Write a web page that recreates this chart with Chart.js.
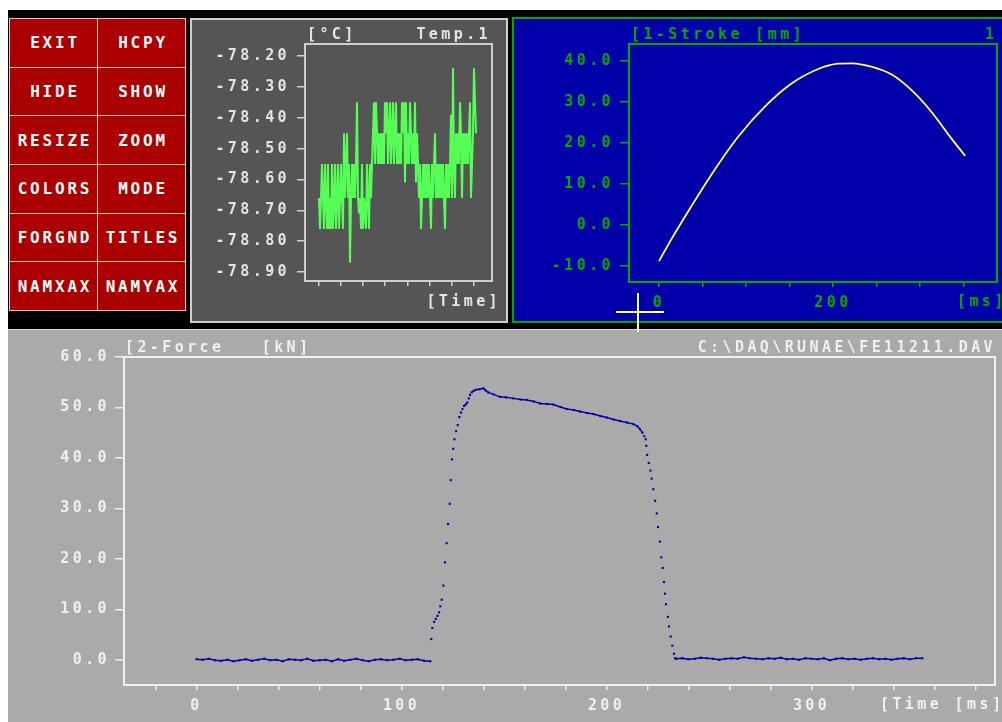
<!DOCTYPE html>
<html>
<head>
<meta charset="utf-8">
<script src="https://cdn.jsdelivr.net/npm/chart.js@4.4.1/dist/chart.umd.min.js"></script>
<style>
  html, body { margin: 0; padding: 0; }
  body { width: 1002px; height: 722px; background: #fff; position: relative; overflow: hidden; }
  .box { position: absolute; box-sizing: border-box; }
  .txt { position: absolute; font: bold 15px "DejaVu Sans Mono", monospace; letter-spacing: 3.4px; line-height: 16px; white-space: pre; }
  canvas { position: absolute; }
  #menu { position: absolute; box-sizing: border-box; left: 9px; top: 18px; width: 177px; height: 293px; background: #e8c4c4;
          display: grid; grid-template-columns: 87px 87px; grid-template-rows: repeat(6, 1fr); gap: 1px; padding: 1px; }
  #menu div { background: #aa0000; color: #fff; display: flex; align-items: center; justify-content: center;
              font: bold 16px "DejaVu Sans Mono", monospace; letter-spacing: 2.8px; padding-left: 3px; }
</style>
</head>
<body>
<div class="box" style="left:8px;top:10px;width:994px;height:320px;background:#000"></div>

<div id="menu">
  <div>EXIT</div><div>HCPY</div>
  <div>HIDE</div><div>SHOW</div>
  <div>RESIZE</div><div>ZOOM</div>
  <div>COLORS</div><div>MODE</div>
  <div>FORGND</div><div>TITLES</div>
  <div>NAMXAX</div><div>NAMYAX</div>
</div>

<!-- temperature panel -->
<div class="box" style="left:190px;top:18px;width:318px;height:305px;background:#555;border:2px solid #cfcfcf"></div>
<canvas id="temp" width="318" height="305" style="left:190px;top:18px"></canvas>
<div class="txt" style="left:307px;top:26px;color:#e4e4e4">[°C]</div>
<div class="txt" style="right:511px;top:26px;color:#e4e4e4">Temp.1</div>
<div class="txt" style="right:501px;top:293px;color:#e4e4e4">[Time]</div>

<!-- stroke panel -->
<div class="box" style="left:512px;top:17px;width:500px;height:306px;background:#0000aa;border:2px solid #00aa00"></div>
<canvas id="stroke" width="490" height="306" style="left:512px;top:17px"></canvas>
<div class="txt" style="left:631px;top:26px;color:#00aa00">[1-Stroke [mm]</div>
<div class="txt" style="left:985px;top:26px;color:#00aa00">1</div>
<div class="txt" style="left:957px;top:293px;color:#00aa00">[ms]</div>

<!-- force panel -->
<div class="box" style="left:8px;top:329px;width:994px;height:393px;background:#aaaaaa;border-top:1px solid #d4d4d4"></div>
<canvas id="force" width="994" height="392" style="left:8px;top:330px"></canvas>
<div class="txt" style="left:125px;top:339px;color:#f0f0f0">[2-Force   [kN]</div>
<div class="txt" style="right:6px;top:339px;color:#f0f0f0">C:\DAQ\RUNAE\FE11211.DAV</div>
<div class="txt" style="left:880px;top:696px;color:#f0f0f0">[Time [ms]</div>

<!-- cursor -->
<div class="box" style="left:616px;top:311px;width:48px;height:2px;background:#ffff99"></div>
<div class="box" style="left:637px;top:293px;width:2px;height:39px;background:#ffff99"></div>

<script>
// Temp.1 [°C], one value per sample
const tempValues = [
  -78.66, -78.76, -78.66, -78.55, -78.66, -78.76, -78.55, -78.66, -78.76, -78.55,
  -78.76, -78.66, -78.76, -78.55, -78.76, -78.66, -78.55, -78.76, -78.66, -78.55,
  -78.76, -78.66, -78.55, -78.66, -78.76, -78.45, -78.66, -78.55, -78.45, -78.66,
  -78.55, -78.87, -78.66, -78.55, -78.66, -78.55, -78.66, -78.55, -78.35, -78.66,
  -78.71, -78.66, -78.76, -78.55, -78.76, -78.66, -78.71, -78.76, -78.55, -78.66,
  -78.76, -78.55, -78.66, -78.55, -78.45, -78.35, -78.55, -78.35, -78.45, -78.55,
  -78.45, -78.55, -78.45, -78.55, -78.45, -78.55, -78.35, -78.45, -78.35, -78.55,
  -78.45, -78.35, -78.55, -78.45, -78.35, -78.55, -78.45, -78.35, -78.55, -78.45,
  -78.55, -78.45, -78.55, -78.35, -78.45, -78.35, -78.61, -78.35, -78.55, -78.45,
  -78.55, -78.35, -78.45, -78.55, -78.45, -78.55, -78.35, -78.61, -78.45, -78.55,
  -78.66, -78.55, -78.76, -78.66, -78.55, -78.66, -78.55, -78.66, -78.55, -78.66,
  -78.55, -78.66, -78.76, -78.55, -78.66, -78.55, -78.45, -78.66, -78.55, -78.66,
  -78.55, -78.66, -78.55, -78.66, -78.55, -78.66, -78.76, -78.55, -78.66, -78.55,
  -78.66, -78.55, -78.39, -78.66, -78.24, -78.55, -78.66, -78.45, -78.55, -78.45,
  -78.55, -78.35, -78.45, -78.66, -78.45, -78.55, -78.45, -78.55, -78.45, -78.55,
  -78.45, -78.35, -78.66, -78.55, -78.45, -78.24, -78.35, -78.45
];
const tempYTicks = [-78.9, -78.8, -78.7, -78.6, -78.5, -78.4, -78.3, -78.2];
const tempXTicks = [0, 22, 44, 66, 89, 111, 133, 155];

// 1-Stroke [mm] over time [ms]
const strokeTime  = [0, 15, 37, 60, 91, 122, 152, 183, 206, 222, 245, 268, 290, 313, 336, 352];
const strokeValue = [-8.8, -3.2, 4.5, 12.2, 21.5, 28.9, 34.4, 38.0, 39.3, 39.4, 38.5, 36.6, 32.9, 27.6, 21.1, 16.8];
const strokeYTicks = [-10, 0, 10, 20, 30, 40];
const strokeXTicks = [0, 50, 100, 150, 200, 250, 300, 350];
const strokeXLabels = [0, 200];

// 2-Force [kN] over time [ms]
const forceTime = [
  0, 3, 6, 9, 12, 15, 18, 21, 24, 27, 30, 33, 36, 39, 42, 45, 48, 51, 54, 57,
  60, 63, 66, 69, 72, 75, 78, 81, 84, 87, 90, 93, 96, 99, 102, 105, 108, 111, 114,
  114.5, 115.0, 115.9, 116.7, 117.5, 118.3, 118.9, 119.6, 120.4, 121.2, 122.0, 122.7, 123.5, 124.0, 124.6,
  125.2, 125.8, 126.6, 127.4, 128.2, 129.0, 129.7, 130.5, 131.3, 132.1, 132.8, 133.4, 134.2, 135.2, 136.3,
  138.0, 139.9, 141.0, 142.3, 144.8, 148.0, 151.0, 154.5, 158.0, 161.1, 164.5, 167.6, 171.0, 174.0, 177.5,
  180.6, 184.0, 187.1, 190.5, 193.6, 197.0, 200.1, 203.5, 206.6, 210.0, 213.1, 215.0, 216.3, 217.5, 218.4,
  219.1, 219.4, 219.8, 220.6, 221.4, 222.0, 222.8, 223.7, 224.5, 225.1, 226.0, 226.7, 227.4, 228.0, 228.5,
  229.0, 229.9, 230.5, 231.3, 232.1, 232.9, 233.4,
  234, 237, 240, 243, 246, 249, 252, 255, 258, 261, 264, 267, 270, 273, 276, 279, 282, 285, 288, 291,
  294, 297, 300, 303, 306, 309, 312, 315, 318, 321, 324, 327, 330, 333, 336, 339, 342, 345, 348, 351, 354
];
const forceValue = [
  0.1, 0.0, 0.2, -0.1, -0.2, 0.0, -0.3, -0.1, 0.1, -0.2, 0.0, 0.2, -0.1, 0.0, -0.3, 0.1, 0.0, -0.1, 0.2, -0.2,
  -0.1, 0.0, -0.3, 0.1, -0.2, 0.0, 0.2, -0.1, -0.3, 0.0, 0.1, -0.1, 0.0, 0.2, -0.1, 0.0, 0.1, -0.2, -0.3,
  4.1, 6.3, 7.5, 8.1, 8.7, 9.4, 10.6, 11.9, 14.7, 19.3, 23.1, 26.9, 30.9, 35.6, 39.7,
  41.8, 43.7, 45.3, 46.5, 48.1, 49.0, 49.7, 50.3, 50.6, 51.0, 51.8, 52.5, 53.0, 53.3, 53.5,
  53.6, 53.8, 53.4, 53.0, 52.6, 52.1, 52.0, 51.8, 51.6, 51.5, 51.2, 50.8, 50.7, 50.6, 50.1,
  49.7, 49.5, 49.2, 48.9, 48.7, 48.3, 48.0, 47.6, 47.3, 47.0, 46.7, 46.3, 45.7, 45.0, 44.3,
  43.7, 42.4, 40.6, 39.0, 37.5, 35.9, 33.8, 31.5, 29.0, 26.3, 23.4, 20.3, 18.2, 15.4, 13.1,
  11.0, 8.5, 6.6, 4.6, 2.8, 1.2, 0.3,
  0.2, 0.3, 0.1, 0.2, 0.4, 0.3, 0.2, 0.0, 0.2, 0.3, 0.2, 0.5, 0.3, 0.2, 0.1, 0.3, 0.2, 0.4, 0.1, 0.2,
  0.0, 0.3, 0.2, 0.1, 0.3, -0.1, 0.2, 0.3, 0.1, 0.2, 0.0, 0.2, 0.3, 0.1, 0.2, 0.0, 0.2, 0.3, 0.1, 0.3, 0.3
];
const forceYTicks = [0, 10, 20, 30, 40, 50, 60];
const forceXTicks = [-20, 0, 20, 40, 60, 80, 100, 120, 140, 160, 180, 200, 220, 240, 260, 280, 300, 320, 340, 360, 380];
const forceXLabels = [0, 100, 200, 300];

Chart.defaults.font.family = '"DejaVu Sans Mono", monospace';
Chart.defaults.font.size = 15;
Chart.defaults.font.weight = 'bold';
Chart.defaults.animation = false;

// the old DOS font is wide, so space the canvas text out
Chart.register({
  id: 'spacing',
  beforeDraw(chart) { chart.ctx.letterSpacing = '3.4px'; }
});

// closed box round the plot area
const frame = {
  id: 'frame',
  beforeDatasetsDraw(chart, args, opts) {
    const { ctx, chartArea: a } = chart;
    ctx.save();
    ctx.strokeStyle = opts.color;
    ctx.lineWidth = opts.width;
    ctx.strokeRect(Math.round(a.left), Math.round(a.top), Math.round(a.right - a.left), Math.round(a.bottom - a.top));
    ctx.restore();
  }
};

function yAxis(min, max, ticks, digits, color, width, pad) {
  return {
    type: 'linear', min: min, max: max, bounds: 'data',
    afterBuildTicks: s => { s.ticks = ticks.map(v => ({ value: v })); },
    afterFit: s => { s.width = width; },
    border: { display: false },
    grid: { drawOnChartArea: false, drawTicks: true, tickLength: 9, color: color, lineWidth: 1.5 },
    ticks: { color: color, padding: pad, autoSkip: false, callback: v => v.toFixed(digits) }
  };
}

function xAxis(min, max, ticks, labels, color, height) {
  return {
    type: 'linear', min: min, max: max, bounds: 'data',
    afterBuildTicks: s => { s.ticks = ticks.map(v => ({ value: v })); },
    afterFit: s => { s.height = height; },
    border: { display: false },
    grid: { drawOnChartArea: false, drawTicks: true, tickLength: 5, color: color, lineWidth: 1.5 },
    ticks: { color: color, padding: 7, autoSkip: false, maxRotation: 0,
             callback: v => labels.includes(v) ? String(v) : '' }
  };
}

function baseOptions(pad, frameColor) {
  return {
    responsive: false,
    layout: { padding: pad },
    plugins: { legend: { display: false }, tooltip: { enabled: false }, frame: { color: frameColor, width: 2 } },
    events: []
  };
}

function createTempChart() {
  const opts = baseOptions({ left: 0, top: 26, right: 16, bottom: 0 }, '#cfcfcf');
  opts.scales = {
    x: xAxis(-14, 173, tempXTicks, [], '#cfcfcf', 42),
    y: yAxis(-78.929, -78.161, tempYTicks, 2, '#e4e4e4', 115, 7)
  };
  opts.scales.y.grid.color = '#cfcfcf';
  opts.scales.y.grid.tickLength = 8;
  new Chart(document.getElementById('temp').getContext('2d'), {
    type: 'line',
    data: {
      datasets: [{
        label: 'Temp.1',
        data: tempValues.map((v, i) => ({ x: i, y: v })),
        borderColor: '#55ff55',
        borderWidth: 2,
        pointRadius: 0,
        tension: 0
      }]
    },
    options: opts,
    plugins: [frame]
  });
}

function createStrokeChart() {
  const green = '#00aa00';
  const opts = baseOptions({ left: 0, top: 27, right: 5, bottom: 0 }, green);
  opts.scales = {
    x: xAxis(-34.5, 388.5, strokeXTicks, strokeXLabels, green, 41),
    y: yAxis(-13.9, 44.1, strokeYTicks, 1, green, 117, 6)
  };
  new Chart(document.getElementById('stroke').getContext('2d'), {
    type: 'line',
    data: {
      datasets: [{
        label: '1-Stroke',
        data: strokeTime.map((t, i) => ({ x: t, y: strokeValue[i] })),
        borderColor: '#ffff55',
        borderWidth: 1.8,
        pointRadius: 0,
        cubicInterpolationMode: 'monotone'
      }]
    },
    options: opts,
    plugins: [frame]
  });
}

function createForceChart() {
  const white = '#f0f0f0';
  const blue = '#0000aa';
  const opts = baseOptions({ left: 0, top: 27, right: 7, bottom: 0 }, white);
  opts.scales = {
    x: xAxis(-35.4, 389.5, forceXTicks, forceXLabels, white, 37),
    y: yAxis(-5, 60, forceYTicks, 1, white, 116, 5)
  };
  new Chart(document.getElementById('force').getContext('2d'), {
    type: 'line',
    data: {
      datasets: [{
        label: '2-Force',
        data: forceTime.map((t, i) => ({ x: t, y: forceValue[i] })),
        borderColor: blue,
        borderWidth: 1.5,
        pointRadius: 1.5,
        pointStyle: 'rect',
        pointBackgroundColor: blue,
        pointBorderWidth: 0,
        tension: 0,
        // samples are only dots; on the steep edges they are too far apart to look joined
        segment: {
          borderColor: c => Math.abs((c.p1.parsed.y - c.p0.parsed.y) / (c.p1.parsed.x - c.p0.parsed.x)) > 0.6 ? 'rgba(0,0,0,0)' : blue
        }
      }]
    },
    options: opts,
    plugins: [frame]
  });
}

createTempChart();
createStrokeChart();
createForceChart();
</script>
</body>
</html>
